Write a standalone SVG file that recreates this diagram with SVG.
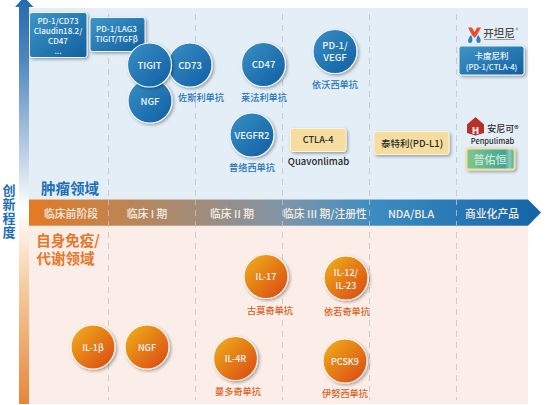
<svg xmlns="http://www.w3.org/2000/svg" width="554" height="405" viewBox="0 0 554 405">
<style>
text{font-family:"Noto Sans CJK SC","Noto Sans",sans-serif;text-anchor:middle}
.w{fill:#f1f6fb;font-size:9.5px;font-weight:500}
.h{fill:#f6ece2;font-size:10.8px;font-weight:500}
.bl{fill:#2374b8;font-size:9.200px;font-weight:500}
.or{fill:#dd5f24;font-size:9.200px;font-weight:500}
.k{fill:#2a2a2a;font-weight:500}
.cb{fill:url(#cb);stroke:#f4f7fa;stroke-width:1.200;filter:url(#sh)}
.co{fill:url(#co);stroke:#fdf6f0;stroke-width:1.200;filter:url(#sh)}
.bx{fill:url(#bb);stroke:#eef4fa;stroke-width:1;filter:url(#sh)}
.yl{fill:#f5dd9f;stroke:#fbf3dd;stroke-width:1;filter:url(#sh)}
.d{stroke:#bfc4c9;stroke-width:.8;stroke-dasharray:6 5;fill:none}
.ax{font-size:13px;font-weight:700;fill:#1d6fb5;writing-mode:vertical-rl;letter-spacing:1px;text-anchor:start}
</style>
<defs>
<linearGradient id="cb" x1="0" y1="0" x2="1" y2="1"><stop offset="0" stop-color="#3a8fc4"/><stop offset="1" stop-color="#0f5fa4"/></linearGradient>
<linearGradient id="bb" x1="0" y1="0" x2="1" y2="1"><stop offset="0" stop-color="#3f96c8"/><stop offset="1" stop-color="#10609f"/></linearGradient>
<linearGradient id="co" x1="0" y1="0" x2="1" y2="1"><stop offset=".1" stop-color="#eda81c"/><stop offset=".9" stop-color="#dc4f10"/></linearGradient>
<linearGradient id="band" x1="0" y1="0" x2="1" y2="0"><stop offset="0" stop-color="#e37a22"/><stop offset=".5" stop-color="#7f95a8"/><stop offset=".68" stop-color="#3a8cc2"/><stop offset="1" stop-color="#1464a6"/></linearGradient>
<linearGradient id="vert" x1="0" y1="0" x2="0" y2="1"><stop offset="0" stop-color="#2468ab"/><stop offset=".15" stop-color="#4d86bf"/><stop offset=".42" stop-color="#cddcec"/><stop offset=".52" stop-color="#ffffff"/><stop offset=".7" stop-color="#f6cfa6"/><stop offset="1" stop-color="#e6863a"/></linearGradient>
<linearGradient id="gr" x1="0" y1="0" x2="1" y2="0"><stop offset="0" stop-color="#86c78c"/><stop offset=".8" stop-color="#3fa59b"/><stop offset=".9" stop-color="#8ccdb0"/><stop offset="1" stop-color="#48a89a"/></linearGradient>
<filter id="sh" x="-30%" y="-30%" width="170%" height="170%"><feDropShadow dx="1.500" dy="1.500" stdDeviation="1.500" flood-color="#000" flood-opacity=".35"/></filter>
</defs>

<g id="background">
<rect x="29" y="8" width="499" height="191.500" fill="#e3eef7"/>
<rect x="29" y="226" width="499" height="178" fill="#fbede7"/>
</g>

<g id="axis">
<path d="M19 404V7H15L24 -3 33.500 7H29V404Z" fill="url(#vert)"/>
<text class="ax" x="9" y="183.500">创新程度</text>
</g>

<g id="stage-band">
<path d="M29 199.500H528L541 212.500 528 225.700H29Z" fill="url(#band)"/>
<text class="h" x="71" y="217.500">临床前阶段</text>
<text class="h" x="147" y="217.500">临床 I 期</text>
<text class="h" x="232" y="217.500">临床 II 期</text>
<text class="h" x="325" y="217.500">临床 III 期/注册性</text>
<text class="h" x="411" y="217.500">NDA/BLA</text>
<text class="h" x="492" y="217.500">商业化产品</text>
</g>

<g id="connectors">
<path class="d" d="M108.500 14V199M195.500 14V199M282.500 14V199M369.500 14V199M456.500 14V199"/>
<path class="d" d="M108.500 199V400M195.500 199V400M282.500 199V400M369.500 199V400M456.500 199V400"/>
</g>

<g id="domain-labels">
<text x="70" y="193.500" style="font-size:14.500px;font-weight:700;fill:#1d6fb5">肿瘤领域</text>
<text style="font-size:14.500px;font-weight:700;fill:#e6772a"><tspan x="68" y="246">自身免疫/</tspan><tspan x="65.500" y="263.500">代谢领域</tspan></text>
</g>

<g id="box-multi">
<rect class="bx" x="29.500" y="12.500" width="57.500" height="45" rx="2.500"/>
<text class="w" style="font-size:8px"><tspan x="58" y="24">PD-1/CD73</tspan><tspan x="58" y="34">Claudin18.2/</tspan><tspan x="58" y="44">CD47</tspan><tspan x="58" y="54">...</tspan></text>
</g>
<g id="box-lag3">
<rect class="bx" x="90" y="17.500" width="55" height="34" rx="2.500"/>
<text class="w" style="font-size:8px"><tspan x="116.500" y="32">PD-1/LAG3</tspan><tspan x="116.500" y="42">TIGIT/TGFβ</tspan></text>
</g>

<g id="node-cd73"><circle class="cb" cx="190" cy="65" r="22"/><text class="w" x="190" y="69">CD73</text></g>
<g id="node-ngf-onc"><circle class="cb" cx="150" cy="101" r="22"/><text class="w" x="150" y="105">NGF</text></g>
<g id="node-tigit"><circle class="cb" cx="149.500" cy="65" r="22"/><text class="w" x="149.500" y="69">TIGIT</text></g>
<text class="bl" x="201" y="101">佐斯利单抗</text>
<g id="node-cd47"><circle class="cb" cx="263.500" cy="64.500" r="22"/><text class="w" x="263.500" y="68">CD47</text><text class="bl" x="264" y="101">莱法利单抗</text></g>
<g id="node-vegfr2"><circle class="cb" cx="252" cy="135" r="22"/><text class="w" x="252" y="139">VEGFR2</text><text class="bl" x="252" y="171">普络西单抗</text></g>
<g id="node-vegf"><circle class="cb" cx="335" cy="51.500" r="22"/><text class="w"><tspan x="335" y="49">PD-1/</tspan><tspan x="335" y="61">VEGF</tspan></text><text class="bl" x="335" y="88">依沃西单抗</text></g>

<g id="node-ctla4"><rect class="yl" x="290.500" y="128.500" width="55.500" height="23" rx="2.500"/><text class="k" style="font-size:9.200px" x="318" y="143">CTLA-4</text><text class="k" style="font-size:9.500px" x="318.500" y="165">Quavonlimab</text></g>
<g id="node-pdl1"><rect class="yl" x="374" y="131.500" width="75" height="23" rx="2.500"/><text class="k" style="font-size:9.500px" x="412" y="146.500">泰特利(PD-L1)</text></g>

<g id="product-cadonilimab">
<path d="M468 27.500L472 27.500 474.500 32 477 27.500 481 27.500 477 35 474.500 38 472 35Z" fill="#e8502a"/>
<path d="M471 35C473 38 473 43 470 43 467 43 468 38 471 35ZM478 35C481 38 482 43 478.500 43 475.500 43 476 38 478 35Z" fill="#2a82c4"/>
<text x="499" y="37" style="font-size:10.500px;fill:#4a4a4a;font-weight:500">开坦尼</text>
<circle cx="517" cy="29" r="1" fill="none" stroke="#4a4a4a" stroke-width=".4"/>
<path d="M484 39.500H515" stroke="#9a9a9a" stroke-width="1" fill="none"/>
<rect class="bx" x="459" y="46" width="65" height="29" rx="2.500"/>
<text class="w" style="font-size:8.500px" x="491.500" y="59">卡度尼利</text>
<text class="w" style="font-size:7.700px" x="491.500" y="70">(PD-1/CTLA-4)</text>
</g>

<g id="product-penpulimab">
<path d="M467 124.500L475.500 117 484 124.500V133L475.500 135.500 467 133Z" fill="#b8302a"/>
<path d="M472.500 127H474.500V129.500H476.500V127H478.500V134H476.500V131H474.500V134H472.500Z" fill="#fbe9e4"/>
<text x="503" y="132" style="font-size:9px;fill:#2a2a2a;font-weight:500">安尼可®</text>
<text class="k" style="font-size:7.500px" x="492.500" y="144">Penpulimab</text>
<rect x="466.500" y="148.500" width="48" height="21" rx="2.500" fill="url(#gr)" stroke="#f3dfa2" stroke-width="1.800" filter="url(#sh)"/>
<text x="490" y="164" style="font-size:11px;fill:#cfe9d2;font-weight:500">普佑恒</text>
</g>

<g id="node-il1b"><circle class="co" cx="93" cy="347" r="22"/><text class="w" style="font-size:9px" x="93" y="350.500">IL-1β</text></g>
<g id="node-ngf-imm"><circle class="co" cx="147" cy="347" r="22"/><text class="w" style="font-size:9px" x="147" y="350.500">NGF</text></g>
<g id="node-il17"><circle class="co" cx="266" cy="276.500" r="22"/><text class="w" style="font-size:9px" x="266" y="280">IL-17</text><text class="or" x="270" y="314">古莫奇单抗</text></g>
<g id="node-il4r"><circle class="co" cx="235.500" cy="358.500" r="22"/><text class="w" style="font-size:9px" x="235.500" y="362">IL-4R</text><text class="or" x="238" y="395">曼多奇单抗</text></g>
<g id="node-il12"><circle class="co" cx="346" cy="278" r="22"/><text class="w" style="font-size:9px"><tspan x="346" y="276">IL-12/</tspan><tspan x="346" y="289">IL-23</tspan></text><text class="or" x="347" y="315">依若奇单抗</text></g>
<g id="node-pcsk9"><circle class="co" cx="345" cy="361" r="22"/><text class="w" style="font-size:9px" x="345" y="365">PCSK9</text><text class="or" x="345" y="397">伊努西单抗</text></g>
</svg>
